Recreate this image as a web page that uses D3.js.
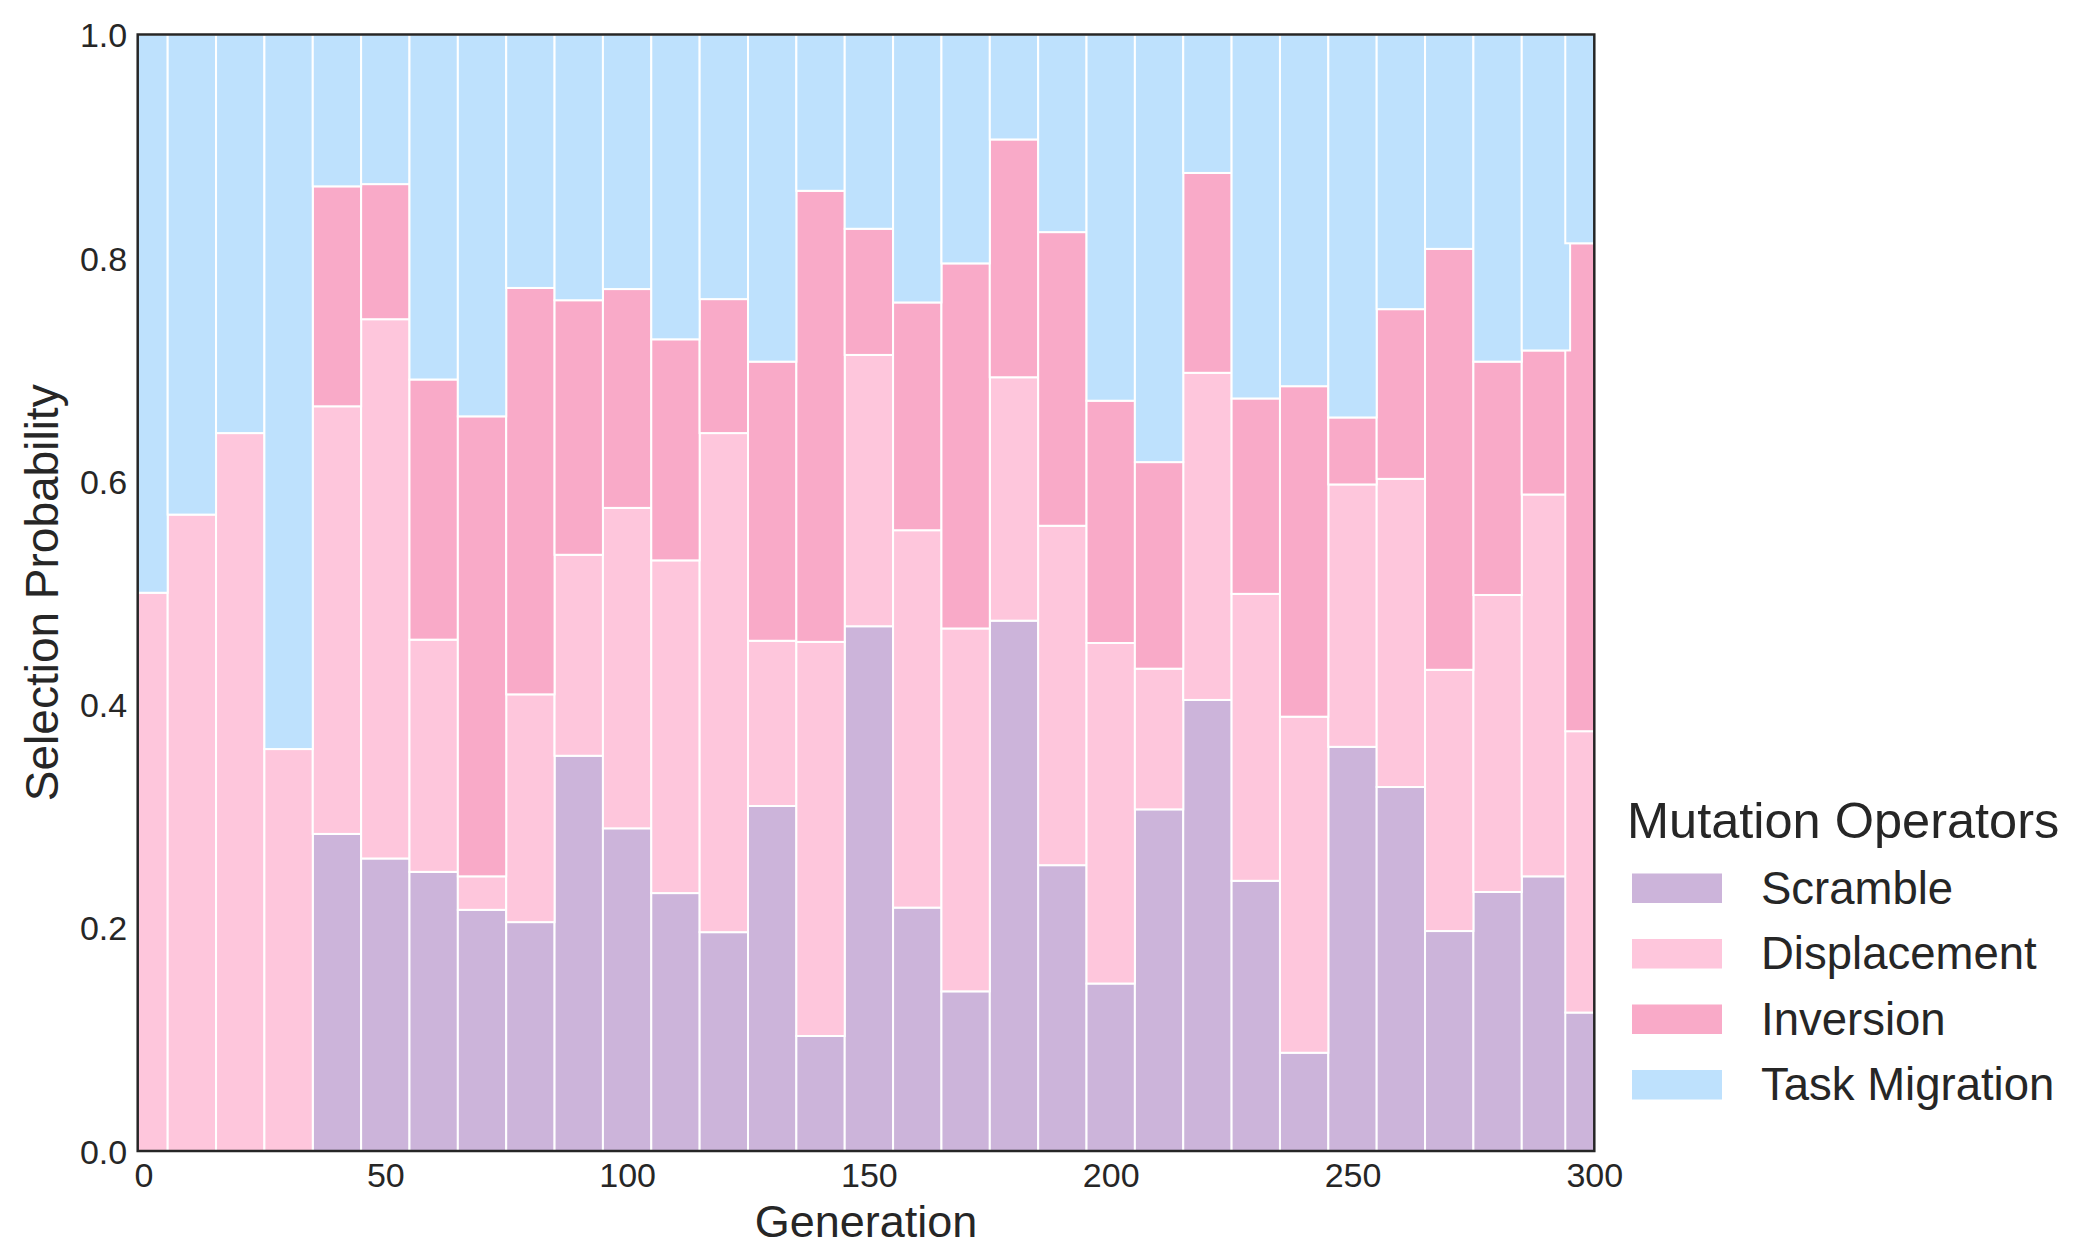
<!DOCTYPE html>
<html>
<head>
<meta charset="utf-8">
<script src="https://cdn.jsdelivr.net/npm/d3@7"></script>
<style>
  body { margin: 0; background: #fff; }
  text { font-family: "Liberation Sans", Arial, sans-serif; fill: #262626; }
</style>
</head>
<body>
<div id="chart"></div>
<script>

/* - - - DATA - - - */

var generations = [0, 10, 20, 30, 40, 50, 60, 70, 80, 90, 100, 110, 120, 130, 140, 150,
                   160, 170, 180, 190, 200, 210, 220, 230, 240, 250, 260, 270, 280, 290, 299];

var scramble     = [0, 0, 0, 0, 0.284, 0.262, 0.250, 0.216, 0.205, 0.354, 0.289, 0.231, 0.196, 0.309, 0.103, 0.470,
                    0.218, 0.143, 0.475, 0.256, 0.150, 0.306, 0.404, 0.242, 0.088, 0.362, 0.326, 0.197, 0.232, 0.246, 0.124];
var displacement = [0.500, 0.570, 0.643, 0.360, 0.383, 0.483, 0.208, 0.030, 0.204, 0.180, 0.287, 0.298, 0.447, 0.148, 0.353, 0.243,
                    0.338, 0.325, 0.218, 0.304, 0.305, 0.126, 0.293, 0.257, 0.301, 0.235, 0.276, 0.234, 0.266, 0.342, 0.252];
var inversion    = [0, 0, 0, 0, 0.197, 0.121, 0.233, 0.412, 0.364, 0.228, 0.196, 0.198, 0.120, 0.250, 0.404, 0.113,
                    0.204, 0.327, 0.213, 0.263, 0.217, 0.185, 0.179, 0.175, 0.296, 0.060, 0.152, 0.377, 0.209, 0.129, 0.437];
var taskMigration = [0.500, 0.430, 0.357, 0.640, 0.136, 0.134, 0.309, 0.342, 0.227, 0.238, 0.228, 0.273, 0.237, 0.293, 0.140, 0.174,
                    0.240, 0.205, 0.094, 0.177, 0.328, 0.383, 0.124, 0.326, 0.315, 0.343, 0.246, 0.192, 0.293, 0.283, 0.187];

var operators = ["Scramble", "Displacement", "Inversion", "Task Migration"];
var colors = ["#CCB4DA", "#FEC6DC", "#F9AAC8", "#BEE1FD"];
var xTicks = [0, 50, 100, 150, 200, 250, 300];
var yTicks = [0, 0.2, 0.4, 0.6, 0.8, 1.0];

/* - - - END DATA - - - */

var svgWidth = 2075, svgHeight = 1251;
var plotLeft = 137.7, plotRight = 1594.3, plotTop = 34.5, plotBottom = 1151;
var barWidth = 10;

var rows = generations.map(function(g, i) {
	return {
		gen: g,
		"Scramble": scramble[i],
		"Displacement": displacement[i],
		"Inversion": inversion[i],
		"Task Migration": taskMigration[i]
	};
});

var x = d3.scaleLinear().domain([-1.2, 300]).range([plotLeft, plotRight]);
var y = d3.scaleLinear().domain([0, 1]).range([plotBottom, plotTop]);

var svg = d3.select('#chart')
			.append('svg')
			.attr('width', svgWidth)
			.attr('height', svgHeight);

svg.append('clipPath')
   .attr('id', 'plot-clip')
   .append('rect')
   .attr('x', plotLeft)
   .attr('y', plotTop)
   .attr('width', plotRight - plotLeft)
   .attr('height', plotBottom - plotTop);

var stacked = d3.stack().keys(operators)(rows);

// one series after the other, like the stacked bar calls
var plot = svg.append('g').attr('clip-path', 'url(#plot-clip)');

plot.selectAll('g.series')
	.data(stacked)
	.enter()
	.append('g')
	.attr('class', 'series')
	.attr('fill', function(d, i) { return colors[i]; })
	.selectAll('rect')
	.data(function(d) { return d; })
	.enter()
	.append('rect')
	.attr('x', function(d) { return x(d.data.gen - barWidth / 2); })
	.attr('width', function(d) { return x(barWidth) - x(0); })
	.attr('y', function(d) { return y(d[1]); })
	.attr('height', function(d) { return y(d[0]) - y(d[1]); })
	.attr('stroke', '#fff')
	.attr('stroke-width', 2);

// axes
var xAxis = svg.append('g')
	.attr('transform', 'translate(0,' + plotBottom + ')')
	.call(d3.axisBottom(x).tickValues(xTicks).tickSize(0).tickFormat(d3.format('d')));
xAxis.select('.domain').remove();
xAxis.selectAll('text')
	 .attr('y', 36)
	 .attr('dy', 0)
	 .style('font-size', '34px')
	 .attr('fill', '#262626');

var yAxis = svg.append('g')
	.attr('transform', 'translate(' + plotLeft + ',0)')
	.call(d3.axisLeft(y).tickValues(yTicks).tickSize(0).tickFormat(d3.format('.1f')));
yAxis.select('.domain').remove();
yAxis.selectAll('text')
	 .attr('x', -10.5)
	 .attr('dy', '0.36em')
	 .style('font-size', '34px')
	 .attr('fill', '#262626');

// frame
svg.append('rect')
   .attr('x', plotLeft)
   .attr('y', plotTop)
   .attr('width', plotRight - plotLeft)
   .attr('height', plotBottom - plotTop)
   .attr('fill', 'none')
   .attr('stroke', '#262626')
   .attr('stroke-width', 2.5);

svg.append('text')
   .attr('x', (plotLeft + plotRight) / 2)
   .attr('y', 1237)
   .attr('text-anchor', 'middle')
   .style('font-size', '45px')
   .text('Generation');

svg.append('text')
   .attr('transform', 'translate(58,' + (plotTop + plotBottom) / 2 + ') rotate(-90)')
   .attr('text-anchor', 'middle')
   .style('font-size', '46px')
   .text('Selection Probability');

// legend
var legend = svg.append('g');

legend.append('text')
	  .attr('x', 1627)
	  .attr('y', 838)
	  .style('font-size', '50.5px')
	  .text('Mutation Operators');

var items = legend.selectAll('g.item')
	.data(operators)
	.enter()
	.append('g')
	.attr('class', 'item')
	.attr('transform', function(d, i) { return 'translate(1632,' + (873.5 + i * 65.5) + ')'; });

items.append('rect')
	 .attr('width', 90)
	 .attr('height', 29.5)
	 .attr('fill', function(d, i) { return colors[i]; });

items.append('text')
	 .attr('x', 129)
	 .attr('y', 30)
	 .style('font-size', '45.5px')
	 .text(function(d) { return d; });

</script>
</body>
</html>
